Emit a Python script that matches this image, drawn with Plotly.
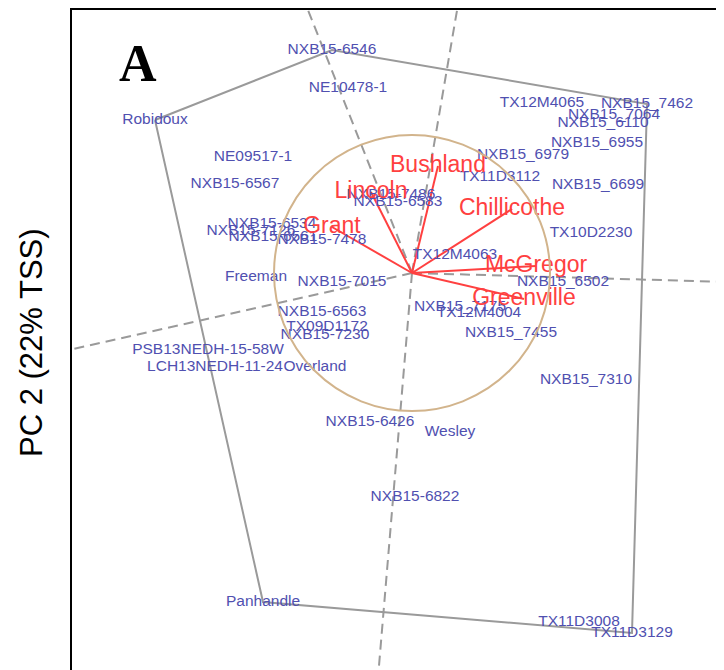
import plotly.graph_objects as go
import math

# Genotype scores (PC1, PC2)
genotypes = ["NXB15-6546", "NE10478-1", "Robidoux", "NE09517-1", "NXB15-6567",
             "NXB15-6534", "NXB15-7126", "NXB15-6561", "NXB15-7478", "Freeman",
             "NXB15-7015", "NXB15-6563", "TX09D1172", "NXB15-7230",
             "PSB13NEDH-15-58W", "LCH13NEDH-11-24", "Overland", "NXB15-6426",
             "Wesley", "NXB15-6822", "Panhandle", "TX11D3008", "TX11D3129",
             "TX12M4065", "NXB15_7462", "NXB15_7064", "NXB15_6110", "NXB15_6955",
             "NXB15_6979", "TX11D3112", "NXB15_6699", "TX10D2230", "NXB15-7486",
             "NXB15-6583", "TX12M4063", "NXB15_6502", "NXB15_7175", "TX12M4004",
             "NXB15_7455", "NXB15_7310"]
gen_pc1 = [-0.80, -0.64, -2.57, -1.59, -1.77,
           -1.40, -1.61, -1.39, -0.90, -1.56,
           -0.70, -0.90, -0.85, -0.87,
           -2.04, -1.97, -0.97, -0.42,
           0.38, 0.03, -1.49, 1.67, 2.20,
           1.30, 2.35, 2.02, 1.91, 1.85,
           1.11, 0.88, 1.86, 1.79, -0.21,
           -0.14, 0.43, 1.51, 0.48, 0.67,
           0.99, 1.74]
gen_pc2 = [2.23, 1.85, 1.53, 1.16, 0.89,
           0.49, 0.42, 0.36, 0.33, -0.04,
           -0.09, -0.39, -0.54, -0.62,
           -0.77, -0.94, -0.94, -1.49,
           -1.59, -2.24, -3.29, -3.49, -3.60,
           1.70, 1.69, 1.58, 1.50, 1.30,
           1.18, 0.96, 0.88, 0.40, 0.78,
           0.71, 0.18, -0.09, -0.34, -0.40,
           -0.60, -1.07]

# Environment vectors
environments = ["Bushland", "Lincoln", "Grant", "Chillicothe", "McGregor", "Greenville"]
env_pc1 = [0.26, -0.41, -0.80, 1.00, 1.24, 1.12]
env_pc2 = [1.07, 0.81, 0.46, 0.64, 0.07, -0.26]

circle_radius = 1.38
y_title = "PC 2 (22% TSS)"
panel_label = "A"

GEN_COLOR = "#5050B0"
ENV_COLOR = "#FF4040"
GRAY = "#9A9A9A"

# convex hull (monotone chain)
pts = sorted(set(zip(gen_pc1, gen_pc2)))
def cross(o, a, b):
    return (a[0]-o[0])*(b[1]-o[1]) - (a[1]-o[1])*(b[0]-o[0])
lower, upper = [], []
for p in pts:
    while len(lower) >= 2 and cross(lower[-2], lower[-1], p) <= 0:
        lower.pop()
    lower.append(p)
for p in reversed(pts):
    while len(upper) >= 2 and cross(upper[-2], upper[-1], p) <= 0:
        upper.pop()
    upper.append(p)
hull = lower[:-1] + upper[:-1]

fig = go.Figure()

hx = [p[0] for p in hull] + [hull[0][0]]
hy = [p[1] for p in hull] + [hull[0][1]]
fig.add_trace(go.Scatter(x=hx, y=hy, mode="lines",
                         line=dict(color=GRAY, width=2), hoverinfo="skip"))

# perpendicular rays from origin to each hull edge
for i in range(len(hull)):
    a = hull[i]; b = hull[(i+1) % len(hull)]
    dx, dy = b[0]-a[0], b[1]-a[1]
    t = (-a[0]*dx - a[1]*dy) / (dx*dx + dy*dy)
    fx, fy = a[0]+t*dx, a[1]+t*dy
    n = math.hypot(fx, fy)
    L = 20
    fig.add_trace(go.Scatter(x=[0, fx/n*L], y=[0, fy/n*L], mode="lines",
                             line=dict(color=GRAY, width=2, dash="10px,6px"),
                             hoverinfo="skip"))

fig.add_shape(type="circle", xref="x", yref="y",
              x0=-circle_radius, y0=-circle_radius, x1=circle_radius, y1=circle_radius,
              line=dict(color="#D2B48C", width=2))

for ex, ey in zip(env_pc1, env_pc2):
    fig.add_trace(go.Scatter(x=[0, ex], y=[0, ey], mode="lines",
                             line=dict(color=ENV_COLOR, width=2), hoverinfo="skip"))

fig.add_trace(go.Scatter(x=gen_pc1, y=gen_pc2, mode="text", text=genotypes,
                         textposition="middle center",
                         textfont=dict(family="Liberation Sans, Arial", size=15.5, color=GEN_COLOR)))
fig.add_trace(go.Scatter(x=env_pc1, y=env_pc2, mode="text", text=environments,
                         textposition="middle center",
                         textfont=dict(family="Liberation Sans, Arial", size=23, color=ENV_COLOR)))

# page body has an 8px margin; plot area spans pixels x 72..724, y 10..670
OFF = 8
W, H = 724 - OFF, 670 - OFF
PX0, PY0, PX1, PY1 = 72, 10, 724, 670
fig.update_layout(
    width=W, height=H, showlegend=False,
    margin=dict(l=PX0 - OFF, r=0, t=PY0 - OFF, b=0, pad=0),
    paper_bgcolor="white", plot_bgcolor="white",
    xaxis=dict(range=[-3.40, 3.12], side="top", showline=True, linecolor="black", linewidth=2,
               showgrid=False, zeroline=False, showticklabels=False, ticks=""),
    yaxis=dict(range=[-3.97, 2.63], showline=True, linecolor="black", linewidth=2,
               showgrid=False, zeroline=False, showticklabels=False, ticks=""),
    annotations=[
        dict(text=y_title, textangle=-90, xref="paper", yref="paper",
             x=(31 - PX0) / (PX1 - PX0), y=(PY1 - 343) / (PY1 - PY0),
             xanchor="center", yanchor="middle", showarrow=False,
             font=dict(family="Liberation Sans, Arial", size=31, color="black")),
        dict(text="<b>" + panel_label + "</b>", xref="paper", yref="paper",
             x=(138 - PX0) / (PX1 - PX0), y=(PY1 - 64) / (PY1 - PY0),
             xanchor="center", yanchor="middle", showarrow=False,
             font=dict(family="Liberation Serif, Times New Roman", size=52, color="black")),
    ],
)

fig.write_html("out.html")
